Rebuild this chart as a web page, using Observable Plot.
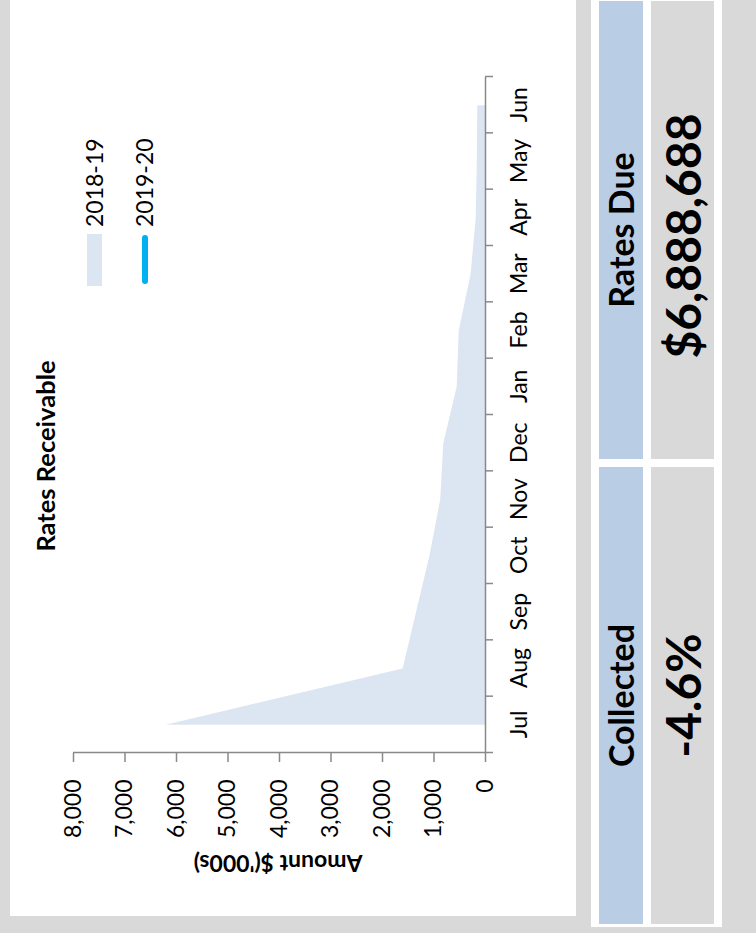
<!DOCTYPE html>
<html><head><meta charset="utf-8">
<script src="https://cdn.jsdelivr.net/npm/d3@7"></script>
<script src="https://cdn.jsdelivr.net/npm/@observablehq/plot@0.6"></script>
<style>
html,body{margin:0;padding:0;background:#d9d9d9;overflow:hidden;}
body{width:756px;height:933px;position:relative;font-family:Lato,sans-serif;}
#frame{position:absolute;left:0;top:0;width:933px;height:756px;transform-origin:0 0;transform:translate(0,933px) rotate(-90deg);background:#d9d9d9;}
.abs{position:absolute;}
#chartbox{left:17px;top:10px;width:916px;height:566px;background:#fff;}
#chartbox svg{position:absolute;left:0;top:0;}
#panelbg{left:6px;top:591px;width:927px;height:131px;background:#fff;}
.box{display:flex;align-items:center;justify-content:center;font-weight:bold;color:#000;white-space:nowrap;line-height:1;box-sizing:border-box;}
.blue{background:#b9cde5;top:599px;height:44px;font-size:34px;}
.grey{background:#d9d9d9;top:651px;height:63px;}
#title{font-weight:bold;font-size:25.5px;line-height:1;white-space:nowrap;transform:translateX(-50%);}
#ytitle{font-weight:bold;font-size:23px;line-height:1;white-space:nowrap;transform:translate(-50%,-50%) rotate(-90deg);}
.legtext{font-size:23px;line-height:1;white-space:nowrap;}
</style>
</head><body>
<div id="frame">
  <div id="chartbox" class="abs"></div>
  <div id="panelbg" class="abs"></div>
</div>
<script>
const months = ["Jul","Aug","Sep","Oct","Nov","Dec","Jan","Feb","Mar","Apr","May","Jun"];
const receivable2018 = [6200,1600,1340,1080,870,810,550,510,280,180,160,150];
const receivable2019 = [];
const yTicks = [0,1000,2000,3000,4000,5000,6000,7000,8000];
const seriesNames = ["2018-19","2019-20"];
const seriesColors = ["#dce6f2","#00b0f0"];
const chartTitle = "Rates Receivable";
const yAxisTitle = "Amount $('000s)";
const panelLabels = ["Collected","Rates Due"];
const panelValues = ["-4.6%","$6,888,688"];

const data18 = months.map((m,i)=>({i, month:m, value:receivable2018[i]}));
const data19 = receivable2019.map((v,i)=>({i, month:months[i], value:v}));
const bounds = d3.range(months.length+1).map(k=>k-0.5);

const chart = Plot.plot({
  width:916, height:566,
  marginLeft:163, marginRight:77, marginTop:63, marginBottom:91,
  style:{fontFamily:"Lato, sans-serif", fontSize:"23px", color:"#000", background:"transparent", overflow:"visible"},
  x:{domain:[-0.5, months.length-0.5]},
  y:{domain:[0, 8000]},
  marks:[
    Plot.areaY(data18,{x:"i", y:"value", fill:seriesColors[0]}),
    Plot.lineY(data19,{x:"i", y:"value", stroke:seriesColors[1], strokeWidth:5}),
    Plot.ruleY([0],{stroke:"#898989", strokeWidth:1.5}),
    Plot.ruleX([-0.5],{stroke:"#898989", strokeWidth:1.5}),
    Plot.axisY({ticks:yTicks, tickFormat:d3.format(","), tickSize:9, tickPadding:18, stroke:"#898989", strokeWidth:1.5, fill:"#000", label:null}),
    Plot.axisX({ticks:bounds, tickFormat:()=>"", tickSize:8, stroke:"#898989", strokeWidth:1.5, label:null}),
    Plot.axisX({ticks:d3.range(months.length), tickFormat:i=>months[i], tickSize:0, tickPadding:25, fill:"#000", label:null})
  ]
});
const cb = document.getElementById("chartbox");
cb.appendChild(chart);

// title
const t = document.createElement("div");
t.id="title"; t.className="abs"; t.textContent=chartTitle;
t.style.left="460px"; t.style.top="23px";
cb.appendChild(t);

// y axis title
const yt = document.createElement("div");
yt.id="ytitle"; yt.className="abs"; yt.textContent=yAxisTitle;
yt.style.left="53px"; yt.style.top="268px";
cb.appendChild(yt);

// legend
const leg = [
  {x:630, y:77, w:52, h:15},
  {x:632, y:132, w:49, h:6}
];
seriesNames.forEach((name,k)=>{
  const sw = document.createElement("div");
  sw.className="abs";
  sw.style.left=leg[k].x+"px"; sw.style.top=leg[k].y+"px";
  sw.style.width=leg[k].w+"px"; sw.style.height=leg[k].h+"px";
  sw.style.background=seriesColors[k];
  if(k===1){sw.style.borderRadius="3px";}
  cb.appendChild(sw);
  const tx = document.createElement("div");
  tx.className="abs legtext"; tx.textContent=name;
  tx.style.left="689px"; tx.style.top=(k===0?73:123)+"px";
  cb.appendChild(tx);
});

// panels
const frame = document.getElementById("frame");
const boxX = [{left:9,width:457},{left:474,width:458}];
panelLabels.forEach((lab,k)=>{
  const b = document.createElement("div");
  b.className="abs box blue"; b.textContent=lab;
  b.style.left=boxX[k].left+"px"; b.style.width=boxX[k].width+"px";
  frame.appendChild(b);
  const g = document.createElement("div");
  g.className="abs box grey"; g.textContent=panelValues[k];
  g.style.left=boxX[k].left+"px"; g.style.width=boxX[k].width+"px";
  g.style.fontSize = (k===0?"48px":"48px");
  if(k===1){g.style.paddingRight="12px";}
  frame.appendChild(g);
});
</script>
</body></html>
